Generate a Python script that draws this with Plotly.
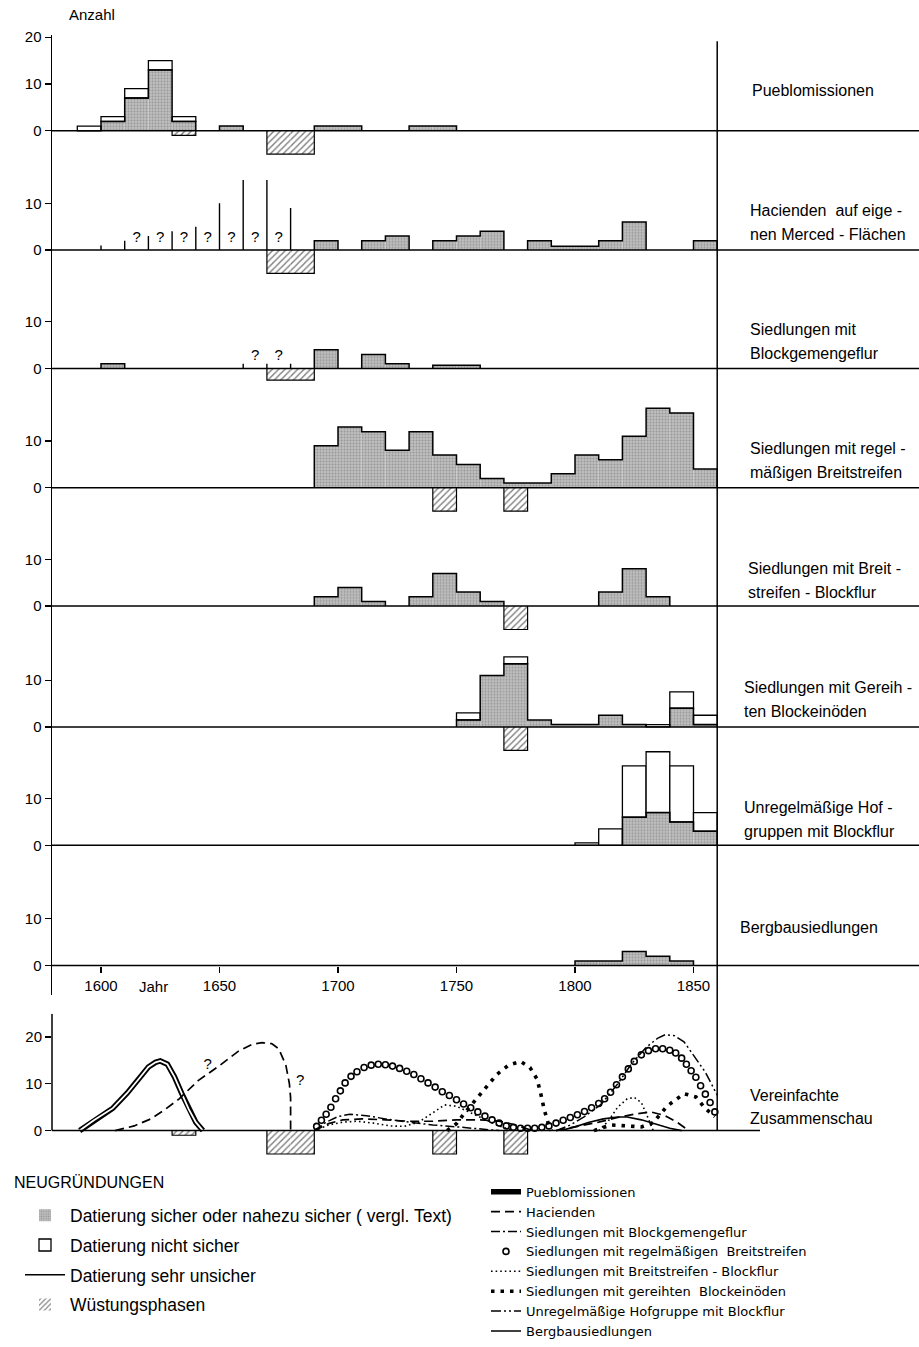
import plotly.graph_objects as go

# ---------------- data (decade start years, counts) ----------------
pueblo_dec = [1590, 1600, 1610, 1620, 1630, 1650, 1690, 1700, 1730, 1740]
pueblo_sure = [0, 2, 7, 13, 2, 1, 1, 1, 1, 1]
pueblo_unc = [1, 1, 2, 2, 1, 0, 0, 0, 0, 0]
pueblo_wdec = [1630, 1670, 1680]
pueblo_wst = [1, 5, 5]

hac_dec = [1690, 1710, 1720, 1740, 1750, 1760, 1780, 1790, 1800, 1810, 1820, 1850]
hac_sure = [2, 2, 3, 2, 3, 4, 2, 0.8, 0.8, 2, 6, 2]
hac_wdec = [1670, 1680]
hac_wst = [5, 5]
hac_q_years = [1600, 1610, 1620, 1630, 1640, 1650, 1660, 1670, 1680]
hac_q_height = [1, 2, 3, 4, 5, 10, 15, 15, 9]
hac_q_marks = [1615, 1625, 1635, 1645, 1655, 1665, 1675]

blg_dec = [1600, 1690, 1710, 1720, 1740, 1750]
blg_sure = [1, 4, 3, 1, 0.7, 0.7]
blg_wdec = [1670, 1680]
blg_wst = [2.5, 2.5]
blg_q_years = [1660, 1670, 1680]
blg_q_height = [1, 1, 1]
blg_q_marks = [1665, 1675]

brs_dec = [1690, 1700, 1710, 1720, 1730, 1740, 1750, 1760, 1770, 1780, 1790,
           1800, 1810, 1820, 1830, 1840, 1850]
brs_sure = [9, 13, 12, 8, 12, 7, 5, 2, 1, 1, 3, 7, 6, 11, 17, 16, 4]
brs_wdec = [1740, 1770]
brs_wst = [5, 5]

bbf_dec = [1690, 1700, 1710, 1730, 1740, 1750, 1760, 1810, 1820, 1830]
bbf_sure = [2, 4, 1, 2, 7, 3, 1, 3, 8, 2]
bbf_wdec = [1770]
bbf_wst = [5]

grb_dec = [1750, 1760, 1770, 1780, 1790, 1800, 1810, 1820, 1830, 1840, 1850]
grb_sure = [1.5, 11, 13.5, 1.5, 0.5, 0.5, 2.5, 0.5, 0, 4, 0.5]
grb_unc = [1.5, 0, 1.5, 0, 0, 0, 0, 0, 0.5, 3.5, 2]
grb_wdec = [1770]
grb_wst = [5]

unr_dec = [1800, 1810, 1820, 1830, 1840, 1850]
unr_sure = [0, 0, 6, 7, 5, 3]
unr_unc = [0.5, 3.5, 11, 13, 12, 4]

berg_dec = [1800, 1810, 1820, 1830, 1840]
berg_sure = [1, 1, 3, 2, 1]

sum_wdec = [1630, 1670, 1680, 1740, 1770]
sum_wst = [1, 5, 5, 5, 5]

# summary curves (year, value); None separates segments
pueblo_cx = [1591, 1597, 1605, 1611, 1616, 1620, 1623, 1625, 1628, 1631, 1634, 1637, 1640, 1643]
pueblo_cy = [0, 2.2, 4.8, 8, 11.1, 13.6, 14.6, 14.9, 14.2, 11.5, 8, 4.6, 1.8, 0]

hac_cx = [1606, 1614, 1621, 1627, 1633, 1641, 1650, 1658, 1664, 1668, 1672, 1675, 1678, 1679.5, 1680, 1680, None,
          1690, 1696, 1702, 1710, 1720, 1730, 1740, 1750, 1760, 1768, 1775, 1782, None,
          1792, 1800, 1810, 1818, 1826, 1832, 1838, 1843, 1848]
hac_cy = [0, 1, 2.5, 4.5, 6.8, 10.7, 13.9, 17, 18.5, 18.8, 18.6, 17.5, 14, 10, 7, 0, None,
          0, 1.5, 2.3, 2.5, 2.3, 2.0, 2.0, 2.3, 2.3, 2.0, 1.2, 0, None,
          0, 0.8, 1.8, 2.8, 3.6, 4.0, 3.2, 1.8, 0]

blg_cx = [1690, 1695, 1700, 1705, 1712, 1720, 1730, 1740, 1750, 1760, 1768]
blg_cy = [0, 1.8, 3.0, 3.5, 3.2, 2.5, 1.8, 1.2, 0.8, 0.4, 0]

brs_cx = [1691, 1693, 1695, 1697, 1699, 1701, 1703, 1705.5, 1708, 1711, 1714, 1717,
          1720, 1723, 1726, 1729, 1732, 1735, 1738, 1741, 1744, 1747, 1750, 1753, 1756, 1759,
          1762, 1765, 1768, 1771, 1774, 1777, 1780, 1783, 1786, 1789,
          1792, 1795, 1798, 1801, 1804, 1807, 1810,
          1812.5, 1815, 1817.5, 1820, 1822.5, 1825,
          1828, 1831, 1834, 1837, 1840,
          1842.5, 1845, 1847, 1849, 1851, 1853, 1855, 1857, 1859]
brs_cy = [0.9, 2.2, 3.5, 5, 6.8, 8.5, 10.2, 11.6, 12.6, 13.5, 14, 14.2,
          14.1, 13.8, 13.3, 12.7, 12, 11.1, 10.2, 9.3, 8.3, 7.5, 6.6, 5.7, 4.9, 4,
          3.1, 2.3, 1.6, 1.0, 0.7, 0.5, 0.5, 0.5, 0.7, 1.0,
          1.6, 2.2, 2.8, 3.4, 4.1, 4.9, 5.8,
          6.8, 8.2, 9.8, 11.5, 13.2, 14.8,
          16.2, 17.1, 17.5, 17.5, 17.2,
          16.6, 15.5, 14.2, 12.8, 11.4, 9.6, 7.8, 6, 4]

bbf_cx = [1690, 1696, 1702, 1708, 1715, 1722, 1728, 1734, 1740, 1745, 1750, 1756, 1762, 1768, 1774, None,
          1810, 1814, 1818, 1822, 1825, 1828, 1831, 1833]
bbf_cy = [0, 1.2, 1.8, 2.0, 1.6, 1.0, 0.9, 1.8, 3.8, 5.5, 5.2, 3.8, 2.3, 1.0, 0, None,
          0, 2, 5, 6.8, 7.1, 6, 2.5, 0]

grb_cx = [1746, 1750, 1753, 1757, 1762, 1767, 1772, 1777, 1781, 1784, 1785.5, 1787, 1789, 1790, None,
          1808, 1815, 1822, 1828, 1833, 1839, 1846, 1851, 1855, 1859]
grb_cy = [0, 1.5, 3.5, 6, 9, 12, 14, 14.8, 13.5, 11, 8, 4.5, 1, 0, None,
          0, 1.2, 1.0, 0.8, 1.7, 5.3, 7.9, 7.2, 4.7, 3]

unr_cx = [1792, 1798, 1804, 1811, 1818, 1824, 1830, 1835, 1838, 1842, 1846, 1850, 1855, 1860]
unr_cy = [0, 1.2, 3, 5.6, 10, 14.4, 17.8, 19.8, 20.5, 20.3, 19, 16, 12.5, 7.6]

berg_cx = [1794, 1800, 1806, 1812, 1818, 1822, 1828, 1834, 1840, 1845]
berg_cy = [0, 0.8, 1.8, 2.5, 2.9, 2.9, 2.3, 1.4, 0.5, 0]

sum_q_x = [1645, 1684]
sum_q_y = [14, 10.5]

x_ticks = [1600, 1650, 1700, 1750, 1800, 1850]

panel_labels = [
    ["Pueblomissionen"],
    ["Hacienden  auf eige -", "nen Merced - Flächen"],
    ["Siedlungen mit", "Blockgemengeflur"],
    ["Siedlungen mit regel -", "mäßigen Breitstreifen"],
    ["Siedlungen mit Breit -", "streifen - Blockflur"],
    ["Siedlungen mit Gereih -", "ten Blockeinöden"],
    ["Unregelmäßige Hof -", "gruppen mit Blockflur"],
    ["Bergbausiedlungen"],
    ["Vereinfachte", "Zusammenschau"],
]

# ---------------- geometry / styles ----------------
W, H = 919, 1347
PX1600 = 101.0
PPY = 2.37
AXPX = 52.0
X0 = 1600 - (PX1600 - AXPX) / PPY
X1 = X0 + (W - AXPX) / PPY
S = 4.76
base_px = [127, 248.5, 369, 490.5, 611, 734, 854.5, 977, 1145]
label_px = [86.5, 220, 341.5, 463, 585, 706.5, 828, 938.5, 1121]
label_xpx = [750, 748, 748, 748, 746, 742, 742, 738, 748]
top_units = [20.5, 19.4, 19.4, 19.4, 19.4, 19.4, 21.5, 19.4, 25]
tops = [b - u * S for b, u in zip(base_px, top_units)]
bottoms = [base_px[k + 1] - 19.4 * S for k in range(7)] + [base_px[7] + 30, base_px[8] + 30]

FONT = "Liberation Sans, Arial, sans-serif"
GRAY_PAT = dict(shape='.', fgcolor='#6e6e6e', bgcolor='#bebebe', size=3, solidity=0.35)
HATCH = dict(shape='/', fgcolor='black', bgcolor='white', size=4.5, solidity=0.32)


def yname(k):
    return 'y' if k == 1 else f'y{k}'


def step_path(starts, vals, w=10):
    pairs = sorted((s, v) for s, v in zip(starts, vals) if v != 0)
    xs, ys = [], []
    prev_end = None
    for s, v in pairs:
        if prev_end is None or s != prev_end:
            if prev_end is not None:
                xs += [prev_end, None]
                ys += [0, None]
            xs.append(s)
            ys.append(0)
        xs += [s, s + w]
        ys += [v, v]
        prev_end = s + w
    if prev_end is not None:
        xs.append(prev_end)
        ys.append(0)
    return xs, ys


fig = go.Figure()


def add_bars(k, dec, sure, unc=None, wdec=None, wst=None, leg=False):
    ya = yname(k)
    xs = [d for d, v in zip(dec, sure) if v > 0]
    vs = [v for v in sure if v > 0]
    fig.add_trace(go.Bar(x=xs, y=vs, width=10, offset=0, yaxis=ya,
                         marker=dict(color='#bebebe', line=dict(width=0), pattern=GRAY_PAT),
                         name="Datierung sicher oder nahezu sicher ( vergl. Text)",
                         showlegend=leg, legend='legend', legendgroup='g1', legendrank=1,
                         hoverinfo='skip'))
    if unc is not None:
        xu = [d for d, v in zip(dec, unc) if v > 0]
        vu = [v for v in unc if v > 0]
        fig.add_trace(go.Bar(x=xu, y=vu, width=10, offset=0, yaxis=ya,
                             marker=dict(color='white', line=dict(color='black', width=1.3)),
                             name="Datierung nicht sicher",
                             showlegend=leg, legend='legend', legendgroup='g2', legendrank=2,
                             hoverinfo='skip'))
    if wdec is not None:
        fig.add_trace(go.Bar(x=wdec, y=[-v for v in wst], width=10, offset=0, yaxis=ya,
                             marker=dict(color='white', line=dict(width=0), pattern=HATCH),
                             name="Wüstungsphasen",
                             showlegend=leg, legend='legend', legendgroup='g4', legendrank=4,
                             hoverinfo='skip'))
        hx, hy = step_path(wdec, [-v for v in wst])
        fig.add_trace(go.Scatter(x=hx, y=hy, yaxis=ya, mode='lines',
                                 line=dict(color='black', width=1.2),
                                 showlegend=False, hoverinfo='skip'))
    sx, sy = step_path(dec, sure)
    fig.add_trace(go.Scatter(x=sx, y=sy, yaxis=ya, mode='lines',
                             line=dict(color='black', width=1.5),
                             showlegend=False, hoverinfo='skip'))


def add_q(k, qy, qh, qm, leg=False):
    ya = yname(k)
    lx, ly = [], []
    for y0, h in zip(qy, qh):
        lx += [y0, y0, None]
        ly += [0, h, None]
    fig.add_trace(go.Scatter(x=lx, y=ly, yaxis=ya, mode='lines',
                             line=dict(color='black', width=1.4),
                             name="Datierung sehr unsicher",
                             showlegend=leg, legend='legend', legendgroup='g3', legendrank=3,
                             hoverinfo='skip'))
    fig.add_trace(go.Scatter(x=qm, y=[2.5] * len(qm), yaxis=ya, mode='text', text=['?'] * len(qm),
                             textfont=dict(size=15, color='black', family=FONT),
                             showlegend=False, hoverinfo='skip'))


add_bars(1, pueblo_dec, pueblo_sure, pueblo_unc, pueblo_wdec, pueblo_wst, leg=True)
add_bars(2, hac_dec, hac_sure, None, hac_wdec, hac_wst)
add_q(2, hac_q_years, hac_q_height, hac_q_marks, leg=True)
add_bars(3, blg_dec, blg_sure, None, blg_wdec, blg_wst)
add_q(3, blg_q_years, blg_q_height, blg_q_marks)
add_bars(4, brs_dec, brs_sure, None, brs_wdec, brs_wst)
add_bars(5, bbf_dec, bbf_sure, None, bbf_wdec, bbf_wst)
add_bars(6, grb_dec, grb_sure, grb_unc, grb_wdec, grb_wst)
add_bars(7, unr_dec, unr_sure, unr_unc)
add_bars(8, berg_dec, berg_sure)

# summary panel
fig.add_trace(go.Bar(x=sum_wdec, y=[-v for v in sum_wst], width=10, offset=0, yaxis='y9',
                     marker=dict(color='white', line=dict(width=0), pattern=HATCH),
                     showlegend=False, hoverinfo='skip'))
hx, hy = step_path(sum_wdec, [-v for v in sum_wst])
fig.add_trace(go.Scatter(x=hx, y=hy, yaxis='y9', mode='lines', line=dict(color='black', width=1.2),
                         showlegend=False, hoverinfo='skip'))

curves = [
    (pueblo_cx, pueblo_cy, "Pueblomissionen", dict(color='black', width=5.5)),
    (hac_cx, hac_cy, "Hacienden", dict(color='black', width=1.7, dash='9px,5px')),
    (blg_cx, blg_cy, "Siedlungen mit Blockgemengeflur", dict(color='black', width=1.5, dash='9px,3px,2px,3px')),
    (None, None, "Siedlungen mit regelmäßigen  Breitstreifen", None),
    (bbf_cx, bbf_cy, "Siedlungen mit Breitstreifen - Blockflur", dict(color='black', width=1.6, dash='1.6px,3px')),
    (grb_cx, grb_cy, "Siedlungen mit gereihten  Blockeinöden", dict(color='black', width=3.6, dash='3.5px,6px')),
    (unr_cx, unr_cy, "Unregelmäßige Hofgruppe mit Blockflur", dict(color='black', width=1.5, dash='10px,3px,2px,3px,2px,3px')),
    (berg_cx, berg_cy, "Bergbausiedlungen", dict(color='black', width=1.6)),
]
for i, (cx, cy, nm, ln) in enumerate(curves):
    if cx is None:
        fig.add_trace(go.Scatter(x=brs_cx, y=brs_cy, yaxis='y9', mode='markers', name=nm,
                                 marker=dict(symbol='circle-open', size=6, color='black', line=dict(width=1.6)),
                                 legend='legend2', legendrank=i + 1, hoverinfo='skip'))
        continue
    fig.add_trace(go.Scatter(x=cx, y=cy, yaxis='y9', mode='lines', name=nm, line=ln,
                             legend='legend2', legendrank=i + 1, connectgaps=False, hoverinfo='skip'))
    if i == 0:
        fig.add_trace(go.Scatter(x=cx, y=cy, yaxis='y9', mode='lines', line=dict(color='white', width=1.8),
                                 showlegend=False, hoverinfo='skip'))

fig.add_trace(go.Scatter(x=sum_q_x, y=sum_q_y, yaxis='y9', mode='text', text=['?'] * len(sum_q_x),
                         textfont=dict(size=15, color='black', family=FONT),
                         showlegend=False, hoverinfo='skip'))

# ---------------- layout ----------------
layout = dict(
    width=W, height=H, margin=dict(l=0, r=0, t=0, b=0), autosize=False,
    paper_bgcolor='white', plot_bgcolor='rgba(0,0,0,0)',
    font=dict(family=FONT, size=15, color='black'),
    barmode='relative',
    xaxis=dict(domain=[AXPX / W, 1], range=[X0, X1], anchor='free', position=1 - base_px[7] / H,
               tickvals=x_ticks, ticks='outside', ticklen=6, tickwidth=1.3, tickcolor='black',
               showline=False, showgrid=False, zeroline=False, tickfont=dict(size=15)),
    showlegend=True,
    legend=dict(x=20 / W, y=1 - 1213 / H, xanchor='left', yanchor='top',
                font=dict(size=17.5), traceorder='grouped', tracegroupgap=4,
                bgcolor='rgba(0,0,0,0)', itemwidth=40),
    legend2=dict(x=486 / W, y=1 - 1192 / H, xanchor='left', yanchor='top',
                 font=dict(size=13, family="DejaVu Sans, sans-serif"), traceorder='normal',
                 bgcolor='rgba(0,0,0,0)', itemwidth=30, tracegroupgap=0),
)
for k in range(1, 10):
    base, top, bot = base_px[k - 1], tops[k - 1], bottoms[k - 1]
    key = 'yaxis' if k == 1 else f'yaxis{k}'
    tv = [0, 10, 20] if k in (1, 9) else [0, 10]
    layout[key] = dict(domain=[1 - bot / H, 1 - top / H], range=[-(bot - base) / S, (base - top) / S],
                       anchor='x', showline=(k != 9), linecolor='black', linewidth=1.5,
                       ticks='outside', ticklen=6, tickwidth=1.3, tickcolor='black', tickvals=tv,
                       showgrid=False, zeroline=False, tickfont=dict(size=15), fixedrange=True)
fig.update_layout(**layout)

shapes = []
for k in range(1, 9):
    shapes.append(dict(type='line', xref='paper', yref=yname(k), x0=AXPX / W, x1=1, y0=0, y1=0,
                       line=dict(color='black', width=1.5), layer='above'))
shapes.append(dict(type='line', xref='paper', yref='y9', x0=AXPX / W, x1=760 / W, y0=0, y1=0,
                   line=dict(color='black', width=1.5), layer='above'))
shapes.append(dict(type='line', xref='paper', yref='y9', x0=AXPX / W, x1=AXPX / W, y0=0,
                   y1=(base_px[8] - tops[8]) / S, line=dict(color='black', width=1.5), layer='above'))
shapes.append(dict(type='line', xref='x', yref='paper', x0=1860, x1=1860, y0=1 - base_px[8] / H,
                   y1=1 - 36 / H, line=dict(color='black', width=1.5), layer='above'))
fig.update_layout(shapes=shapes)

ann = [dict(text='Anzahl', xref='paper', yref='paper', x=92 / W, y=1 - 9 / H, showarrow=False,
            font=dict(size=15), xanchor='center', yanchor='middle'),
       dict(text='Jahr', xref='x', yref='paper', x=1622, y=1 - 998 / H, showarrow=False,
            font=dict(size=15), xanchor='center', yanchor='middle'),
       dict(text='NEUGRÜNDUNGEN', xref='paper', yref='paper', x=12 / W, y=1 - 1198 / H, showarrow=False,
            font=dict(size=16), xanchor='left', yanchor='middle')]
for lines, cy, lx in zip(panel_labels, label_px, label_xpx):
    n = len(lines)
    for j, t in enumerate(lines):
        yy = cy + (j - (n - 1) / 2) * 24.3
        ann.append(dict(text=t, xref='paper', yref='paper', x=lx / W, y=1 - yy / H, showarrow=False,
                        font=dict(size=16), xanchor='left', yanchor='middle'))
fig.update_layout(annotations=ann)

post = ("var gd=document.getElementById('{plot_id}');"
        "var de=document.documentElement, bd=document.body;"
        "de.style.margin='0';bd.style.margin='0';bd.style.padding='0';"
        "de.style.height='1347px';bd.style.height='1347px';"
        "de.style.overflow='hidden';bd.style.overflow='hidden';"
        "gd.style.position='absolute';gd.style.top='0px';gd.style.left='0px';")
fig.write_html("out.html", include_plotlyjs=True,
               config={'displayModeBar': False, 'staticPlot': True},
               post_script=post)
